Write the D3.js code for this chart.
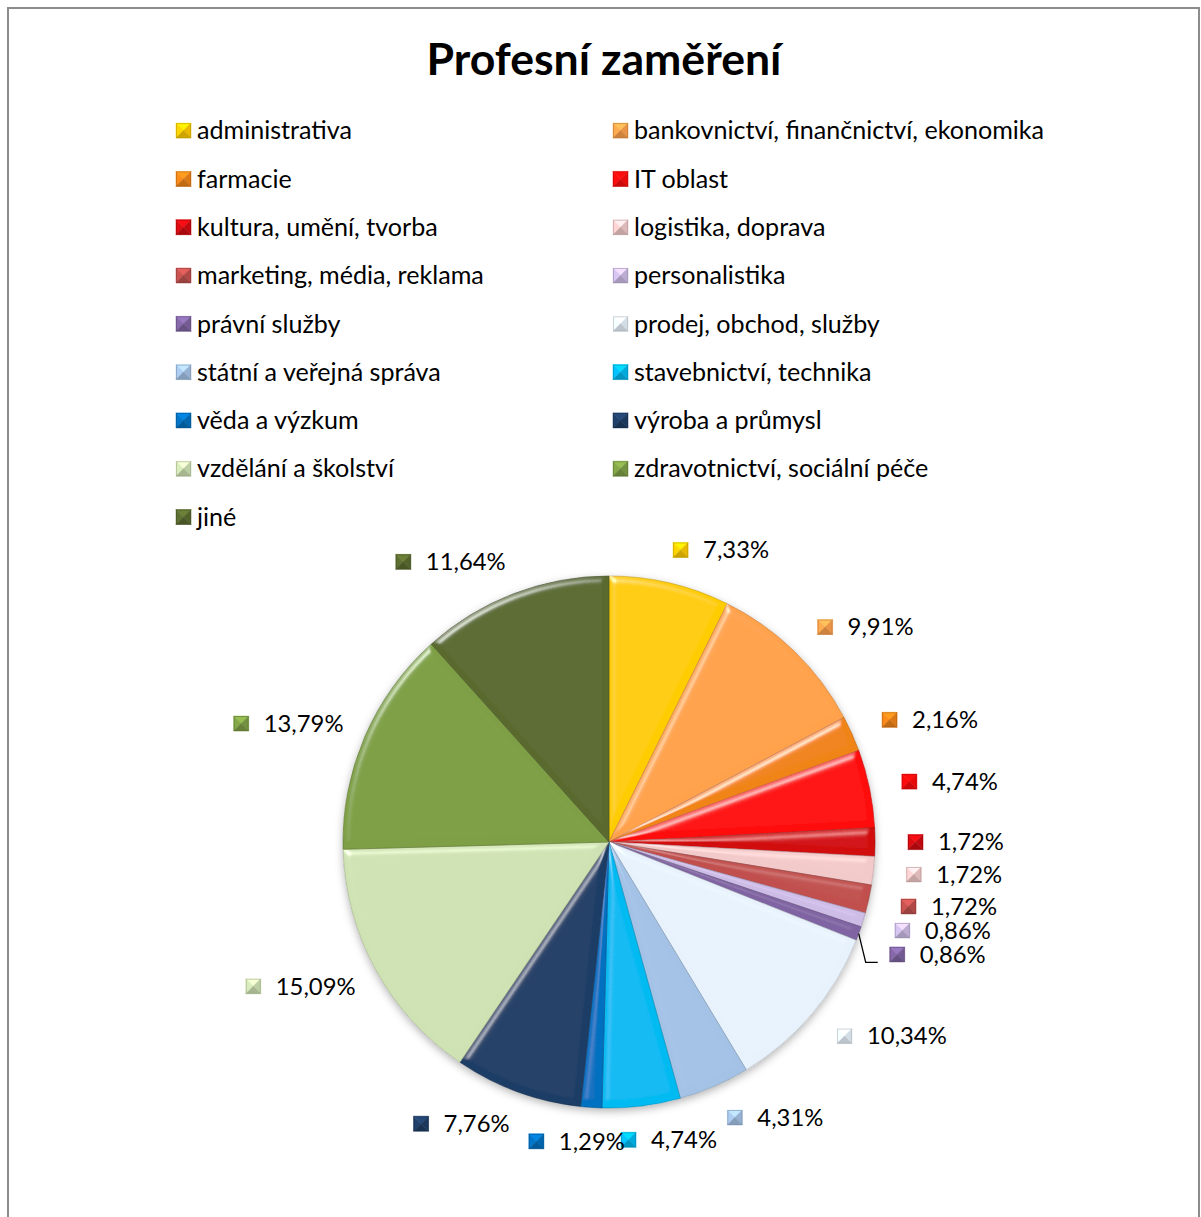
<!DOCTYPE html>
<html>
<head>
<meta charset="utf-8">
<script src="https://cdnjs.cloudflare.com/ajax/libs/d3/7.8.5/d3.min.js"></script>
<style>
  html, body { margin: 0; padding: 0; background: #fff; }
  svg { display: block; }
</style>
</head>
<body>
<svg id="chart" width="1201" height="1217"></svg>
<script>
// ---------------- data ----------------
const title = "Profesní zaměření";
const categories = [
  "administrativa",
  "bankovnictví, finančnictví, ekonomika",
  "farmacie",
  "IT oblast",
  "kultura, umění, tvorba",
  "logistika, doprava",
  "marketing, média, reklama",
  "personalistika",
  "právní služby",
  "prodej, obchod, služby",
  "státní a veřejná správa",
  "stavebnictví, technika",
  "věda a výzkum",
  "výroba a průmysl",
  "vzdělání a školství",
  "zdravotnictví, sociální péče",
  "jiné"
];
const values = [7.33, 9.91, 2.16, 4.74, 1.72, 1.72, 1.72, 0.86, 0.86, 10.34, 4.31, 4.74, 1.29, 7.76, 15.09, 13.79, 11.64];
const valueLabels = ["7,33%", "9,91%", "2,16%", "4,74%", "1,72%", "1,72%", "1,72%", "0,86%", "0,86%", "10,34%", "4,31%", "4,74%", "1,29%", "7,76%", "15,09%", "13,79%", "11,64%"];

// ---------------- styles ----------------
const colors = [
  "#FFCC00", "#FFA24C", "#F08418", "#FF0A0A", "#D20A10", "#F3CACA",
  "#C0504D", "#CDBCE6", "#8064A2", "#E8F2FC", "#A4C2E6", "#00BAF2",
  "#0070C0", "#1F3E66", "#CFE2B3", "#7E9F44", "#5A6B2F"
];
const FONT = "Lato, 'Noto Sans', sans-serif";

const svg = d3.select("#chart");
const defs = svg.append("defs");

// frame
svg.append("rect")
  .attr("x", 8).attr("y", 8).attr("width", 1191).attr("height", 1240)
  .attr("fill", "#fff").attr("stroke", "#8c8c8c").attr("stroke-width", 2);

// font fitting helper
function fitSize(text, weight, target) {
  const t = svg.append("text").attr("font-family", FONT).attr("font-weight", weight)
    .attr("font-size", 100).text(text);
  const len = t.node().getComputedTextLength();
  t.remove();
  return 100 * target / len;
}
const titleSize = fitSize(title, "bold", 355);
const legendSize = fitSize("administrativa", "normal", 155);
const labelSize = fitSize("7,33%", "normal", 66);

// title
svg.append("text")
  .attr("x", 604).attr("y", 75)
  .attr("text-anchor", "middle")
  .attr("font-family", FONT).attr("font-weight", "bold")
  .attr("font-size", titleSize).attr("fill", "#000")
  .text(title);

// bevelled square marker (pyramid look)
function marker(g, x, y, s, c) {
  const col = d3.color(c);
  const mx = x + s / 2, my = y + s / 2;
  const tris = [
    [[x, y], [x + s, y], [mx, my], col.brighter(0.5)],
    [[x, y], [x, y + s], [mx, my], col.brighter(0.15)],
    [[x + s, y], [x + s, y + s], [mx, my], col.darker(0.25)],
    [[x, y + s], [x + s, y + s], [mx, my], col.darker(0.6)]
  ];
  tris.forEach(t => {
    g.append("path")
      .attr("d", `M${t[0][0]},${t[0][1]}L${t[1][0]},${t[1][1]}L${t[2][0]},${t[2][1]}Z`)
      .attr("fill", t[3].formatHex()).attr("stroke", t[3].formatHex()).attr("stroke-width", 0.5);
  });
  g.append("rect").attr("x", x + 0.5).attr("y", y + 0.5).attr("width", s - 1).attr("height", s - 1)
    .attr("fill", "none").attr("stroke", col.darker(0.8).formatHex()).attr("stroke-width", 1).attr("stroke-opacity", 0.6);
}

// legend
const legendCols = [176, 613];
const legendTop = 130.6, legendStep = 48.3, mk = 15;
const legend = svg.append("g");
categories.forEach((cat, i) => {
  const col = i % 2, row = Math.floor(i / 2);
  const x = legendCols[col], y = legendTop + row * legendStep;
  marker(legend, x, y - mk / 2, mk, colors[i]);
  legend.append("text")
    .attr("x", x + 21).attr("y", y).attr("dy", "0.35em")
    .attr("font-family", FONT).attr("font-size", legendSize).attr("fill", "#000")
    .text(cat);
});

// ---------------- pie ----------------
const cx = 609, cy = 842, R = 266;

// filters
const shadow = defs.append("filter").attr("id", "shadow")
  .attr("x", "-20%").attr("y", "-20%").attr("width", "140%").attr("height", "140%");
shadow.append("feDropShadow").attr("dx", 0).attr("dy", 3).attr("stdDeviation", 4)
  .attr("flood-color", "#000").attr("flood-opacity", 0.3);

const bevel = defs.append("filter").attr("id", "bevel")
  .attr("x", "-5%").attr("y", "-5%").attr("width", "110%").attr("height", "110%");
bevel.append("feGaussianBlur").attr("in", "SourceAlpha").attr("stdDeviation", 3.5).attr("result", "blur");
const spec = bevel.append("feSpecularLighting").attr("in", "blur")
  .attr("surfaceScale", 5).attr("specularConstant", 0.7).attr("specularExponent", 28)
  .attr("lighting-color", "#ffffff").attr("result", "spec");
spec.append("feDistantLight").attr("azimuth", 235).attr("elevation", 28);
bevel.append("feComposite").attr("in", "spec").attr("in2", "SourceAlpha").attr("operator", "in").attr("result", "specOut");
bevel.append("feComposite").attr("in", "SourceGraphic").attr("in2", "specOut")
  .attr("operator", "arithmetic").attr("k1", 0).attr("k2", 1).attr("k3", 0.8).attr("k4", 0);

const pie = d3.pie().sort(null).value(d => d).startAngle(0).endAngle(2 * Math.PI);
const arcs = pie(values);
const arc = d3.arc().innerRadius(0).outerRadius(R);

const pieG = svg.append("g").attr("transform", `translate(${cx},${cy})`);
pieG.append("circle").attr("r", R).attr("fill", "#fff").attr("filter", "url(#shadow)");
pieG.selectAll("path.slice").data(arcs).enter().append("path")
  .attr("class", "slice")
  .attr("d", arc)
  .attr("fill", (d, i) => colors[i])
  .attr("stroke", (d, i) => d3.color(colors[i]).darker(0.8).formatHex())
  .attr("stroke-opacity", 0.6)
  .attr("stroke-width", 1)
  .attr("stroke-linejoin", "round")
  .attr("filter", "url(#bevel)");

// ---------------- data labels ----------------
const rl = R + 28, lh = 24, gapMk = 15;
const measure = svg.append("text").attr("font-family", FONT).attr("font-size", labelSize);
const labels = arcs.map((d, i) => {
  const a = (d.startAngle + d.endAngle) / 2;
  const sx = Math.sin(a), sy = -Math.cos(a);
  measure.text(valueLabels[i]);
  const tw = measure.node().getComputedTextLength();
  const w = mk + gapMk + tw;
  const px = cx + rl * sx, py = cy + rl * sy;
  const f = Math.max(-1, Math.min(1, sx * 4));
  const yy = py + (lh / 2) * sy * 0.5;
  return { i, a, sx, sy, w, tw, x: px + (w / 2) * f - w / 2 + 5 * Math.abs(sx), y: yy, y0: yy };
});
measure.remove();

// resolve overlap on right and left sides
[1, -1].forEach(side => {
  const grp = labels.filter(l => l.sx * side > 0.7).sort((a, b) => a.y - b.y);
  for (let k = 1; k < grp.length; k++) {
    if (grp[k].y < grp[k - 1].y + lh) grp[k].y = grp[k - 1].y + lh;
  }
});

const labG = svg.append("g");
labels.forEach(l => {
  marker(labG, l.x, l.y - mk / 2, mk, colors[l.i]);
  labG.append("text")
    .attr("x", l.x + mk + gapMk).attr("y", l.y).attr("dy", "0.35em")
    .attr("font-family", FONT).attr("font-size", labelSize).attr("fill", "#000")
    .text(valueLabels[l.i]);
  if (l.y - l.y0 > 4) {
    const ex = cx + R * l.sx, ey = cy + R * l.sy;
    const ly = l.y + 8;
    labG.append("path")
      .attr("d", `M${ex},${ey}L${l.x - 24},${ly}L${l.x - 12},${ly}`)
      .attr("fill", "none").attr("stroke", "#000").attr("stroke-width", 1.3);
  }
});
</script>
</body>
</html>
